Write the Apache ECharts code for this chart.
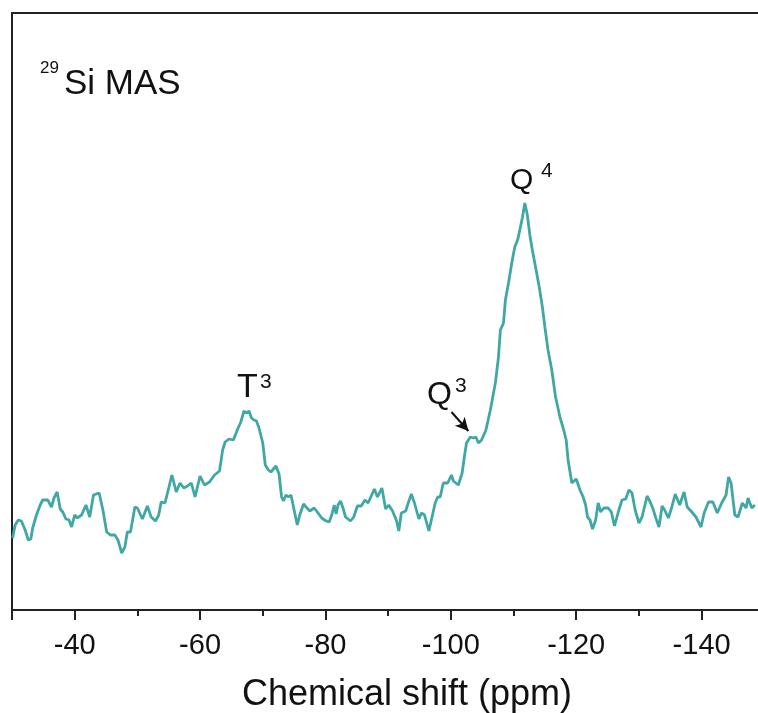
<!DOCTYPE html>
<html>
<head>
<meta charset="utf-8">
<title>29Si MAS NMR</title>
<script src="https://cdn.jsdelivr.net/npm/echarts@6/dist/echarts.min.js"></script>
<style>
  html, body { margin: 0; padding: 0; background: #fff; overflow: hidden; }
  /* plot runs on past the right edge of the window, as in the cropped original */
  #chart { width: 830px; height: 713px; }
</style>
</head>
<body>
<div id="chart"></div>
<script>
// chemical shift (ppm) and intensity (a.u.)
var shift = [
  -30.1, -30.5, -31.0, -31.5, -32.1, -32.6, -33.0, -33.3, -33.9, -34.5,
  -34.9, -35.7, -36.3, -36.7, -37.2, -37.7, -38.1, -38.6, -39.1, -39.5,
  -40.0, -40.4, -41.1, -41.8, -42.4, -43.0, -43.9, -44.5, -45.1, -45.7,
  -46.4, -46.9, -47.5, -48.0, -48.4, -48.9, -49.6, -50.0, -50.8, -51.6,
  -52.2, -52.9, -53.4, -53.8, -54.4, -55.0, -55.5, -56.2, -56.8, -57.4,
  -58.0, -58.6, -59.2, -60.0, -60.7, -61.5, -62.3, -63.1, -63.6, -64.0,
  -64.6, -65.3, -66.0, -66.5, -67.0, -67.4, -67.8, -68.2, -68.6, -69.0,
  -69.4, -70.0, -70.4, -70.9, -71.3, -72.1, -72.6, -73.0, -73.3, -73.7,
  -74.1, -74.5, -74.9, -75.5, -75.9, -76.5, -76.9, -77.5, -78.2, -78.7,
  -79.4, -80.1, -80.6, -81.0, -81.4, -81.7, -82.0, -82.4, -82.8, -83.2,
  -84.0, -84.5, -85.1, -85.7, -86.3, -86.8, -87.3, -87.8, -88.3, -89.0,
  -89.6, -90.1, -90.7, -91.3, -91.7, -92.1, -92.8, -93.2, -93.7, -94.2,
  -94.9, -95.3, -95.8, -96.5, -97.0, -97.5, -97.9, -98.3, -98.8, -99.5,
  -100.1, -100.4, -101.2, -101.8, -102.2, -102.5, -103.1, -103.6, -104.0, -104.4,
  -104.9, -105.6, -106.3, -107.1, -107.6, -107.9, -108.4, -108.7, -109.2, -109.4,
  -109.8, -110.2, -110.7, -111.0, -111.4, -111.8, -112.2, -112.6, -113.0, -113.6,
  -114.1, -114.6, -115.0, -115.5, -116.1, -116.7, -117.4, -118.0, -118.4, -118.7,
  -119.3, -120.0, -120.6, -121.1, -121.5, -121.8, -122.2, -122.6, -123.1, -123.5,
  -123.9, -124.4, -125.1, -125.6, -126.1, -126.8, -127.3, -127.9, -128.4, -128.9,
  -129.4, -130.0, -130.5, -131.3, -131.8, -132.2, -132.7, -133.2, -133.7, -134.1,
  -134.7, -135.2, -135.8, -136.5, -137.2, -137.7, -138.3, -139.1, -139.9, -140.4,
  -141.1, -141.8, -142.5, -143.2, -143.9, -144.3, -144.7, -145.3, -145.8, -146.5,
  -147.1, -147.4, -148.0, -148.5
];
var intensity = [
  72, 85, 90, 89, 80, 70, 71, 82, 95, 105,
  110, 110, 103, 112, 118, 101, 98, 91, 90, 83,
  95, 92, 95, 105, 93, 115, 117, 100, 78, 75,
  75, 70, 57, 63, 78, 78, 103, 102, 91, 104,
  93, 89, 95, 108, 107, 122, 135, 118, 127, 122,
  124, 127, 113, 134, 125, 128, 135, 139, 160, 168,
  171, 170, 181, 188, 199, 197, 199, 192, 190, 189,
  182, 167, 145, 140, 138, 144, 136, 113, 109, 115,
  113, 115, 103, 85, 95, 106, 103, 99, 102, 98,
  92, 89, 88, 95, 105, 96, 105, 109, 102, 93,
  89, 93, 104, 104, 110, 107, 114, 121, 113, 122,
  101, 105, 99, 90, 79, 97, 99, 107, 116, 107,
  91, 97, 95, 79, 93, 107, 113, 113, 127, 127,
  135, 129, 125, 137, 155, 167, 173, 172, 173, 167,
  170, 180, 200, 227, 253, 280, 287, 310, 327, 328,
  350, 363, 371, 380, 392, 407, 395, 375, 360, 340,
  323, 303, 283, 260, 240, 213, 193, 180, 170, 150,
  127, 131, 120, 113, 105, 93, 90, 81, 90, 107,
  98, 102, 102, 98, 84, 100, 110, 111, 120, 117,
  100, 87, 93, 114, 108, 102, 92, 83, 104, 100,
  92, 102, 116, 105, 118, 103, 99, 93, 83, 97,
  108, 108, 97, 107, 115, 133, 127, 95, 93, 107,
  102, 112, 102, 105
];
var majorTicks = [-40, -60, -80, -100, -120, -140];
// Q3 arrow: tail and head in data units
var arrowFrom = [-100.1, 198];
var arrowTo = [-102.8, 179];

var lineColor = '#3fa8a4';
var fontFam = 'Arial, "Liberation Sans", sans-serif';

var chart = echarts.init(document.getElementById('chart'));

var points = shift.map(function (s, i) { return [s, intensity[i]]; });

var option = {
    animation: false,
    backgroundColor: '#fff',
    grid: {
        left: 12,
        top: 13,
        right: 0,
        bottom: 103,
        show: true,
        borderColor: '#222',
        borderWidth: 2,
        backgroundColor: 'transparent'
    },
    xAxis: [{
        type: 'value',
        inverse: true,
        min: -160,
        max: -30,
        interval: 20,
        position: 'bottom',
        axisLine: { show: true, lineStyle: { color: '#222', width: 2 } },
        axisTick: { show: true, length: 10, lineStyle: { color: '#222', width: 2 } },
        axisLabel: {
            color: '#111',
            fontSize: 29,
            fontFamily: fontFam,
            margin: 21,
            formatter: function (v) {
                return majorTicks.indexOf(v) >= 0 ? String(v) : '';
            }
        },
        splitLine: { show: false }
    }, {
        type: 'value',
        inverse: true,
        min: -160,
        max: -30,
        interval: 10,
        position: 'bottom',
        axisLine: { show: false },
        axisTick: { show: true, length: 6, lineStyle: { color: '#222', width: 2 } },
        axisLabel: { show: false },
        splitLine: { show: false }
    }],
    yAxis: {
        type: 'value',
        min: 0,
        max: 597,
        axisLine: { show: true, lineStyle: { color: '#222', width: 2 } },
        axisTick: { show: false },
        axisLabel: { show: false },
        splitLine: { show: false }
    },
    series: [{
        type: 'line',
        data: points,
        xAxisIndex: 0,
        showSymbol: false,
        smooth: false,
        lineStyle: { color: lineColor, width: 2.8 },
        markLine: {
            silent: true,
            symbol: ['none', 'arrow'],
            symbolSize: [10, 13],
            label: { show: false },
            lineStyle: { color: '#111', width: 2, type: 'solid' },
            data: [[{ coord: arrowFrom }, { coord: arrowTo }]]
        }
    }],
    graphic: [
        { type: 'text', left: 40, top: 60, style: { text: '29', fontSize: 17, fontFamily: fontFam, fill: '#111' } },
        { type: 'text', left: 64, top: 67, style: { text: 'Si MAS', fontSize: 35, fontFamily: fontFam, fill: '#111' } },

        { type: 'text', left: 237, top: 371, style: { text: 'T', fontSize: 34, fontFamily: fontFam, fill: '#111' } },
        { type: 'text', left: 260, top: 372, style: { text: '3', fontSize: 21, fontFamily: fontFam, fill: '#111' } },

        { type: 'text', left: 427, top: 379, style: { text: 'Q', fontSize: 32, fontFamily: fontFam, fill: '#111' } },
        { type: 'text', left: 455, top: 376, style: { text: '3', fontSize: 21, fontFamily: fontFam, fill: '#111' } },

        { type: 'text', left: 510, top: 166, style: { text: 'Q', fontSize: 30, fontFamily: fontFam, fill: '#111' } },
        { type: 'text', left: 541, top: 161, style: { text: '4', fontSize: 21, fontFamily: fontFam, fill: '#111' } },

        { type: 'text', x: 407, y: 677, style: { text: 'Chemical shift (ppm)', fontSize: 36, fontFamily: fontFam, fill: '#111', align: 'center', verticalAlign: 'top' } }
    ]
};

chart.setOption(option);
</script>
</body>
</html>
